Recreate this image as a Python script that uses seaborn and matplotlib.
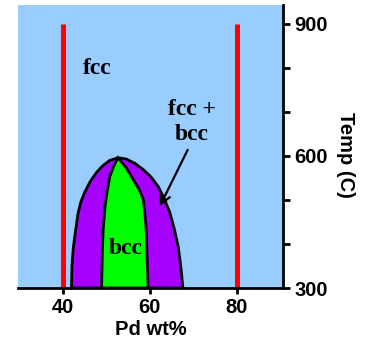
import matplotlib
matplotlib.use("Agg")
import matplotlib.pyplot as plt
from matplotlib.ticker import FixedLocator, NullFormatter
import numpy as np
import pandas as pd
import seaborn as sns

# Composition / temperature traces of the miscibility dome (Pd wt%, deg C)
outer_left_x = [42.0, 42.1, 42.4, 43.0, 43.5, 44.2, 45.1, 46.3, 47.7, 49.2, 50.8, 52.7]
outer_left_t = [300, 350, 390, 435, 470, 497, 519, 542, 562, 578, 590, 596]
outer_right_x = [54.6, 56.6, 58.5, 60.3, 61.9, 63.3, 64.6, 65.6, 66.5, 67.1, 67.5, 67.6]
outer_right_t = [593, 583, 569, 552, 531, 503, 471, 435, 395, 350, 310, 300]
inner_left_x = [52.7, 51.6, 50.8, 50.2, 49.7, 49.3, 49.1, 48.9]
inner_left_t = [596, 575, 553, 520, 486, 437, 388, 300]
inner_right_x = [59.6, 59.4, 59.2, 58.9, 58.5, 57.5, 56.2, 54.6, 52.7]
inner_right_t = [300, 360, 426, 465, 501, 525, 546, 573, 596]

# Sample compositions marked as vertical lines
sample_x = [40, 80]
sample_t = [300, 900]

x_ticks = [40, 60, 80]
y_major = [300, 600, 900]
y_minor = [400, 500, 700, 800]

sns.set_theme(style="white")
plt.rcParams["font.family"] = ["Liberation Sans", "DejaVu Sans"]
plt.rcParams["text.color"] = "black"
plt.rcParams["axes.labelcolor"] = "black"
plt.rcParams["xtick.color"] = "black"
plt.rcParams["ytick.color"] = "black"

fig = plt.figure(figsize=(3.77, 3.46), dpi=100)
ax = fig.add_axes([0.0477, 0.1676, 0.7030, 0.8179])
ax.set_facecolor("#99CCFF")

outer = pd.DataFrame({"x": outer_left_x + outer_right_x,
                      "t": outer_left_t + outer_right_t})
inner = pd.DataFrame({"x": inner_left_x + inner_right_x,
                      "t": inner_left_t + inner_right_t})

ax.fill(outer["x"], outer["t"], facecolor="#A600FF", edgecolor="black",
        linewidth=2, zorder=2)
ax.fill(inner["x"], inner["t"], facecolor="#00FF00", edgecolor="black",
        linewidth=2, zorder=3)

for sx in sample_x:
    line = pd.DataFrame({"x": [sx, sx], "t": sample_t})
    sns.lineplot(data=line, x="x", y="t", color="#FF0000", linewidth=3.6,
                 ax=ax, zorder=4, sort=False, estimator=None,
                 solid_capstyle="butt")

serif = ["Liberation Serif", "DejaVu Serif"]
ax.text(47.8, 798, "fcc", family=serif, fontweight="bold", fontsize=17,
        ha="center", va="center", zorder=5)
ax.text(69.7, 677, "fcc +\nbcc", family=serif, fontweight="bold", fontsize=17,
        ha="center", va="center", linespacing=1.2, zorder=5)
ax.text(54.5, 389, "bcc", family=serif, fontweight="bold", fontsize=17,
        ha="center", va="center", zorder=5)
ax.annotate("", xy=(62.3, 486), xytext=(68.7, 614),
            arrowprops=dict(arrowstyle="->", color="black", lw=1.6,
                            mutation_scale=18, shrinkA=0, shrinkB=0),
            zorder=6)

ax.set_xlim(29.7, 90.6)
ax.set_ylim(300, 943)

for side in ["top", "left"]:
    ax.spines[side].set_visible(False)
for side in ["bottom", "right"]:
    ax.spines[side].set_visible(True)
    ax.spines[side].set_color("black")
    ax.spines[side].set_linewidth(2)
    ax.spines[side].set_zorder(7)

ax.set_xticks(x_ticks)
ax.yaxis.tick_right()
ax.yaxis.set_label_position("right")
ax.yaxis.set_major_locator(FixedLocator(y_major))
ax.yaxis.set_minor_locator(FixedLocator(y_minor))
ax.yaxis.set_minor_formatter(NullFormatter())
ax.tick_params(axis="x", bottom=True, direction="out", length=4, width=2,
               color="black", labelcolor="black", labelsize=14.5, pad=3)
ax.tick_params(axis="y", which="both", right=True, left=False, direction="out",
               length=5, width=2, color="black", labelcolor="black",
               labelsize=14.5, pad=3)
for lab in ax.get_xticklabels() + ax.get_yticklabels():
    lab.set_fontweight("bold")

ax.set_xlabel("Pd wt%", fontsize=14.5, fontweight="bold", color="black",
              labelpad=2)
ax.set_ylabel("Temp (C)", fontsize=14.5, fontweight="bold", color="black",
              rotation=270, labelpad=18)
ax.yaxis.set_label_coords(1.27, 0.47)

fig.savefig("out.png", dpi=100)
